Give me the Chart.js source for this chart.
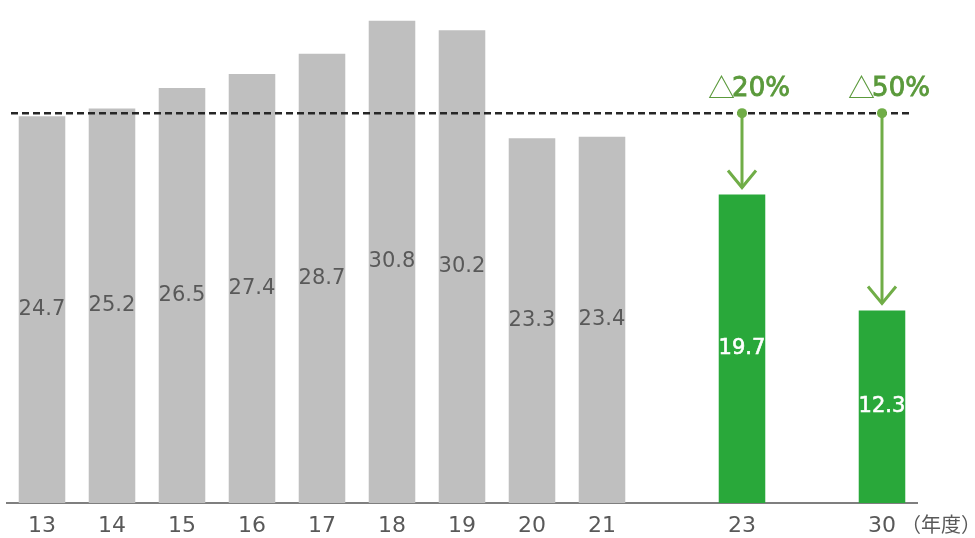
<!DOCTYPE html>
<html>
<head>
<meta charset="utf-8">
<script src="https://cdn.jsdelivr.net/npm/chart.js@4"></script>
<style>
  html, body { margin: 0; padding: 0; background: #fff; }
  #wrap { position: relative; width: 975px; height: 538px; }
</style>
</head>
<body>
<div id="wrap"><canvas id="chart"></canvas></div>
<script>
// 年度（空欄は間隔用）
const years = ["13", "14", "15", "16", "17", "18", "19", "20", "21", "", "23", "", "30"];
// 値
const values = [24.7, 25.2, 26.5, 27.4, 28.7, 30.8, 30.2, 23.3, 23.4, null, 19.7, null, 12.3];
// 目標年度と削減率
const targetYears = ["23", "30"];
const targetLabels = ["20%", "50%"];
// 基準線
const refLine = 24.9;

const gray = "#bfbfbf";
const green = "#29a83a";
const barColors = years.map(y => targetYears.includes(y) ? green : gray);

// 棒の中の数値
const valueLabels = {
  id: "valueLabels",
  afterDatasetsDraw(chart) {
    const ctx = chart.ctx;
    const meta = chart.getDatasetMeta(0);
    ctx.save();
    ctx.textAlign = "center";
    ctx.textBaseline = "middle";
    meta.data.forEach((bar, i) => {
      if (values[i] == null) return;
      const target = targetYears.includes(years[i]);
      ctx.fillStyle = target ? "#ffffff" : "#595959";
      ctx.font = "21px 'DejaVu Sans'";
      const ty = (bar.y + bar.base) / 2;
      ctx.fillText(values[i].toFixed(1), bar.x, ty);
      if (target) {
        ctx.strokeStyle = "#ffffff";
        ctx.lineWidth = 0.6;
        ctx.strokeText(values[i].toFixed(1), bar.x, ty);
      }
    });
    ctx.restore();
  }
};

// 基準線と矢印
const refArrows = {
  id: "refArrows",
  afterDatasetsDraw(chart) {
    const ctx = chart.ctx;
    const y = chart.scales.y;
    const meta = chart.getDatasetMeta(0);
    const ly = y.getPixelForValue(refLine);
    ctx.save();
    ctx.strokeStyle = "#262626";
    ctx.lineWidth = 2.5;
    ctx.setLineDash([7, 4]);
    ctx.beginPath();
    ctx.moveTo(chart.chartArea.left + 4, ly);
    ctx.lineTo(912, ly);
    ctx.stroke();
    ctx.setLineDash([]);

    targetYears.forEach((yr, k) => {
      const i = years.indexOf(yr);
      const bar = meta.data[i];
      const bx = bar.x;
      const tip = bar.y - 7;
      ctx.strokeStyle = "#70ad47";
      ctx.fillStyle = "#70ad47";
      ctx.lineWidth = 3;
      ctx.beginPath();
      ctx.moveTo(bx, ly);
      ctx.lineTo(bx, tip);
      ctx.stroke();
      ctx.beginPath();
      ctx.moveTo(bx - 14, tip - 17);
      ctx.lineTo(bx, tip);
      ctx.lineTo(bx + 14, tip - 17);
      ctx.stroke();
      ctx.beginPath();
      ctx.arc(bx, ly, 5, 0, Math.PI * 2);
      ctx.fill();

      // △ + 削減率
      ctx.fillStyle = "#5b9a3c";
      ctx.strokeStyle = "#5b9a3c";
      ctx.lineWidth = 0.9;
      ctx.textAlign = "left";
      ctx.textBaseline = "middle";
      const fTri = "27px 'Noto Sans CJK JP'";
      const fNum = "26px 'DejaVu Sans'";
      ctx.font = fTri;
      const wTri = ctx.measureText("△").width - 3;
      ctx.font = fNum;
      const wNum = ctx.measureText(targetLabels[k]).width;
      const x0 = bx + 7 - (wTri + wNum) / 2;
      ctx.font = fTri;
      ctx.fillText("△", x0, ly - 25);
      ctx.font = fNum;
      ctx.fillText(targetLabels[k], x0 + wTri, ly - 24);
      ctx.strokeText(targetLabels[k], x0 + wTri, ly - 24);
    });

    // 単位
    ctx.fillStyle = "#595959";
    ctx.font = "20px 'Noto Sans CJK JP'";
    ctx.textAlign = "left";
    ctx.textBaseline = "middle";
    ctx.fillText("（年度）", 901, 524);
    ctx.restore();
  }
};

new Chart(document.getElementById("chart"), {
  type: "bar",
  data: {
    labels: years,
    datasets: [{
      data: values,
      backgroundColor: barColors,
      categoryPercentage: 1,
      barPercentage: 0.665
    }]
  },
  options: {
    responsive: true,
    maintainAspectRatio: false,
    animation: false,
    layout: { padding: { left: 7, right: 58, top: 2, bottom: 0 } },
    plugins: {
      legend: { display: false },
      tooltip: { enabled: false }
    },
    scales: {
      x: {
        grid: { display: false, drawTicks: false },
        border: { color: "#7f7f7f", width: 2 },
        ticks: {
          color: "#595959",
          font: { family: "'DejaVu Sans'", size: 22 },
          padding: 10,
          maxRotation: 0,
          autoSkip: false
        },
        afterFit(s) { s.height = 35; }
      },
      y: {
        display: false,
        min: 0,
        max: 32
      }
    }
  },
  plugins: [valueLabels, refArrows]
});
</script>
</body>
</html>
